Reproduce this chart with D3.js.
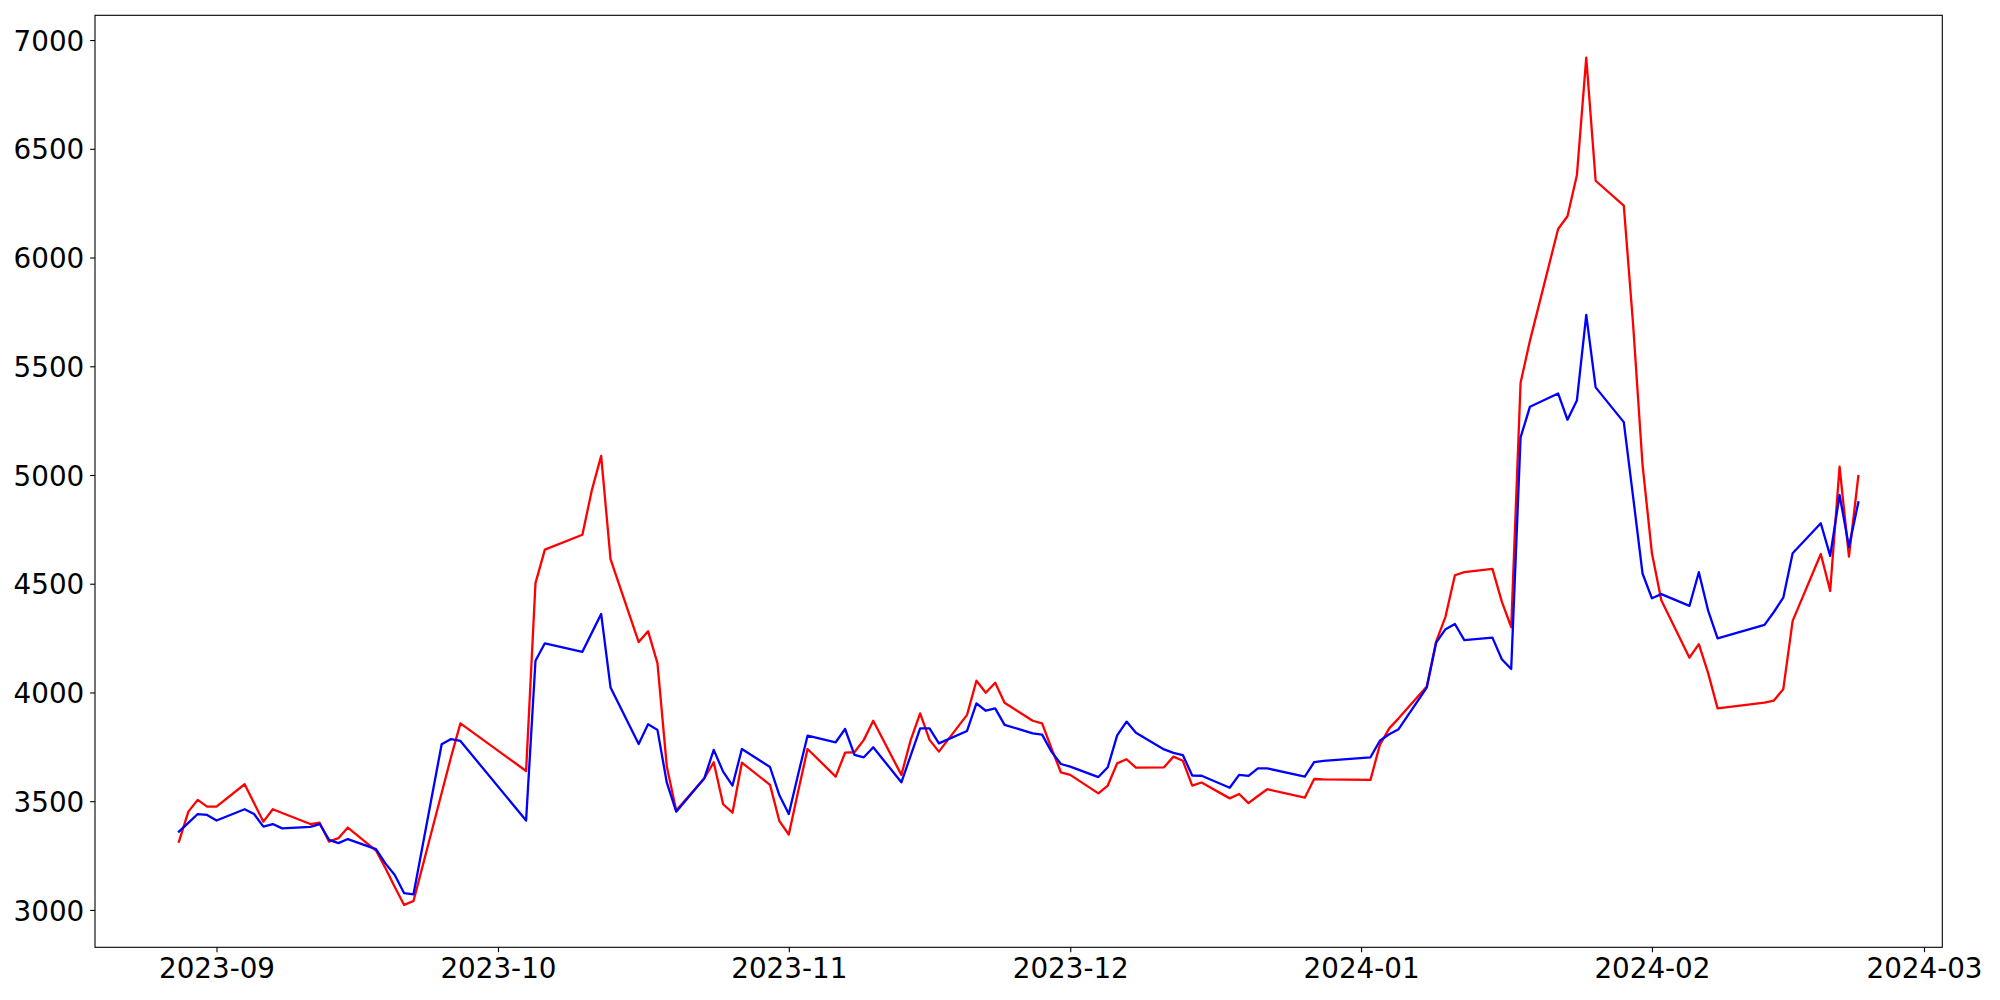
<!DOCTYPE html>
<html lang="en">
<head>
  <meta charset="UTF-8">
  <title>Two series, Aug 2023 - Feb 2024</title>
  <script src="https://d3js.org/d3.v7.min.js"></script>
  <style>
    body {
      margin: 0;
      background: #fff;
    }
    .tick text {
      font-family: "DejaVu Sans", sans-serif;
      font-size: 27.78px;
      fill: #000;
    }
    .tick line {
      stroke: #000;
      stroke-width: 1.1px;
    }
  </style>
</head>
<body>
  <div id="chart"></div>

  <script>
    // trading days (KRX calendar)
    const dates = [
      "2023-08-28", "2023-08-29", "2023-08-30", "2023-08-31", "2023-09-01",
      "2023-09-04", "2023-09-05", "2023-09-06", "2023-09-07", "2023-09-08",
      "2023-09-11", "2023-09-12", "2023-09-13", "2023-09-14", "2023-09-15",
      "2023-09-18", "2023-09-19", "2023-09-20", "2023-09-21", "2023-09-22",
      "2023-09-25", "2023-09-26", "2023-09-27",
      "2023-10-04", "2023-10-05", "2023-10-06",
      "2023-10-10", "2023-10-11", "2023-10-12", "2023-10-13",
      "2023-10-16", "2023-10-17", "2023-10-18", "2023-10-19", "2023-10-20",
      "2023-10-23", "2023-10-24", "2023-10-25", "2023-10-26", "2023-10-27",
      "2023-10-30", "2023-10-31", "2023-11-01", "2023-11-02", "2023-11-03",
      "2023-11-06", "2023-11-07", "2023-11-08", "2023-11-09", "2023-11-10",
      "2023-11-13", "2023-11-14", "2023-11-15", "2023-11-16", "2023-11-17",
      "2023-11-20", "2023-11-21", "2023-11-22", "2023-11-23", "2023-11-24",
      "2023-11-27", "2023-11-28", "2023-11-29", "2023-11-30", "2023-12-01",
      "2023-12-04", "2023-12-05", "2023-12-06", "2023-12-07", "2023-12-08",
      "2023-12-11", "2023-12-12", "2023-12-13", "2023-12-14", "2023-12-15",
      "2023-12-18", "2023-12-19", "2023-12-20", "2023-12-21", "2023-12-22",
      "2023-12-26", "2023-12-27", "2023-12-28",
      "2024-01-02", "2024-01-03", "2024-01-04", "2024-01-05",
      "2024-01-08", "2024-01-09", "2024-01-10", "2024-01-11", "2024-01-12",
      "2024-01-15", "2024-01-16", "2024-01-17", "2024-01-18", "2024-01-19",
      "2024-01-22", "2024-01-23", "2024-01-24", "2024-01-25", "2024-01-26",
      "2024-01-29", "2024-01-30", "2024-01-31", "2024-02-01", "2024-02-02",
      "2024-02-05", "2024-02-06", "2024-02-07", "2024-02-08",
      "2024-02-13", "2024-02-14", "2024-02-15", "2024-02-16",
      "2024-02-19", "2024-02-20", "2024-02-21", "2024-02-22", "2024-02-23"
    ];

    const redValues = [
      3314, 3452, 3506, 3475, 3475,
      3578, 3492, 3406, 3463, 3446,
      3395, 3401, 3314, 3330, 3379,
      3273, 3193, 3106, 3023, 3041,
      3538, 3703, 3858,
      3639, 4503, 4657,
      4725, 4929, 5088, 4613,
      4232, 4282, 4135, 3659, 3457,
      3606, 3679, 3486, 3447, 3677,
      3575, 3408, 3347, 3546, 3740,
      3613, 3723, 3725, 3782, 3870,
      3621, 3782, 3904, 3782, 3728,
      3897, 4054, 3999, 4045, 3953,
      3870, 3858, 3743, 3633, 3621,
      3536, 3572, 3674, 3693, 3654,
      3656, 3705, 3686, 3572, 3586,
      3513, 3533, 3491, 3524, 3555,
      3516, 3602, 3600,
      3598, 3759, 3835, 3881,
      4027, 4234, 4349, 4539, 4553,
      4568, 4418, 4300, 5424, 5618,
      6131, 6190, 6378, 6919, 6353,
      6239, 5688, 5046, 4640, 4424,
      4160, 4222, 4088, 3927,
      3953, 3963, 4015, 4329,
      4637, 4467, 5038, 4625, 4995
    ];

    const blueValues = [
      3360, 3400, 3441, 3437, 3411,
      3463, 3441, 3383, 3395, 3375,
      3382, 3395, 3322, 3307, 3326,
      3280, 3214, 3161, 3077, 3072,
      3762, 3786, 3777,
      3411, 4146, 4226,
      4187, 4274, 4361, 4023,
      3763, 3854, 3828, 3585, 3452,
      3606, 3736, 3636, 3572, 3740,
      3657, 3527, 3441, 3624, 3801,
      3771, 3832, 3713, 3702, 3748,
      3587, 3711, 3835, 3835, 3766,
      3823, 3950, 3916, 3927, 3851,
      3812, 3806, 3728, 3671, 3659,
      3611, 3656, 3803, 3866, 3815,
      3738, 3722, 3712, 3618, 3617,
      3562, 3621, 3616, 3651, 3651,
      3613, 3680, 3685,
      3702, 3778, 3808, 3831,
      4022, 4229, 4291, 4315, 4241,
      4252, 4153, 4108, 5173, 5314,
      5375, 5254, 5342, 5736, 5403,
      5243, 4897, 4547, 4433, 4452,
      4398, 4553, 4375, 4249,
      4311, 4370, 4436, 4640,
      4778, 4628, 4908, 4670, 4874
    ];

    const yTicks = [3000, 3500, 4000, 4500, 5000, 5500, 6000, 6500, 7000];
    const monthTicks = ["2023-09-01", "2023-10-01", "2023-11-01", "2023-12-01",
                        "2024-01-01", "2024-02-01", "2024-03-01"];

    const parseDate = d3.utcParse("%Y-%m-%d");

    const series = [
      { name: "red", color: "#ff0000", values: redValues },
      { name: "blue", color: "#0000ff", values: blueValues }
    ].map(s => ({
      ...s,
      points: dates.map((d, i) => ({ date: parseDate(d), value: s.values[i] }))
    }));

    const margin = { top: 15.3, right: 57.7, bottom: 52.7, left: 95 };
    const width = 2000 - margin.left - margin.right;
    const height = 1000 - margin.top - margin.bottom;

    const svg = d3.select("#chart")
      .append("svg")
      .attr("width", width + margin.left + margin.right)
      .attr("height", height + margin.top + margin.bottom)
      .append("g")
      .attr("transform", `translate(${margin.left}, ${margin.top})`);

    // matplotlib-like 5% padding on both axes
    const allDates = series[0].points.map(d => d.date);
    const [t0, t1] = d3.extent(allDates);
    const tPad = (t1 - t0) * 0.05;
    const x = d3.scaleUtc()
      .domain([new Date(+t0 - tPad), new Date(+t1 + tPad)])
      .range([0, width]);

    const allValues = redValues.concat(blueValues);
    const [v0, v1] = d3.extent(allValues);
    const vPad = (v1 - v0) * 0.05;
    const y = d3.scaleLinear()
      .domain([v0 - vPad, v1 + vPad])
      .range([height, 0]);

    const tickLen = 4.86;

    const xAxis = svg.append("g")
      .attr("transform", `translate(0, ${height})`)
      .call(d3.axisBottom(x)
        .tickValues(monthTicks.map(parseDate))
        .tickFormat(d3.utcFormat("%Y-%m"))
        .tickSize(tickLen)
        .tickPadding(tickLen));
    xAxis.select(".domain").remove();
    xAxis.selectAll("text").attr("dy", "0.76em");

    const yAxis = svg.append("g")
      .call(d3.axisLeft(y)
        .tickValues(yTicks)
        .tickFormat(d3.format("d"))
        .tickSize(tickLen)
        .tickPadding(tickLen + 1));
    yAxis.select(".domain").remove();
    yAxis.selectAll("text").attr("dy", "0.365em");

    const line = d3.line()
      .x(d => x(d.date))
      .y(d => y(d.value));

    svg.selectAll(".series")
      .data(series)
      .enter()
      .append("path")
      .attr("class", "series")
      .attr("fill", "none")
      .attr("stroke", d => d.color)
      .attr("stroke-width", 2.3)
      .attr("stroke-linejoin", "round")
      .attr("stroke-linecap", "square")
      .attr("d", d => line(d.points));

    // frame (all four spines)
    svg.append("rect")
      .attr("x", 0)
      .attr("y", 0)
      .attr("width", width)
      .attr("height", height)
      .attr("fill", "none")
      .attr("stroke", "#000")
      .attr("stroke-width", 1.1);
  </script>
</body>
</html>
